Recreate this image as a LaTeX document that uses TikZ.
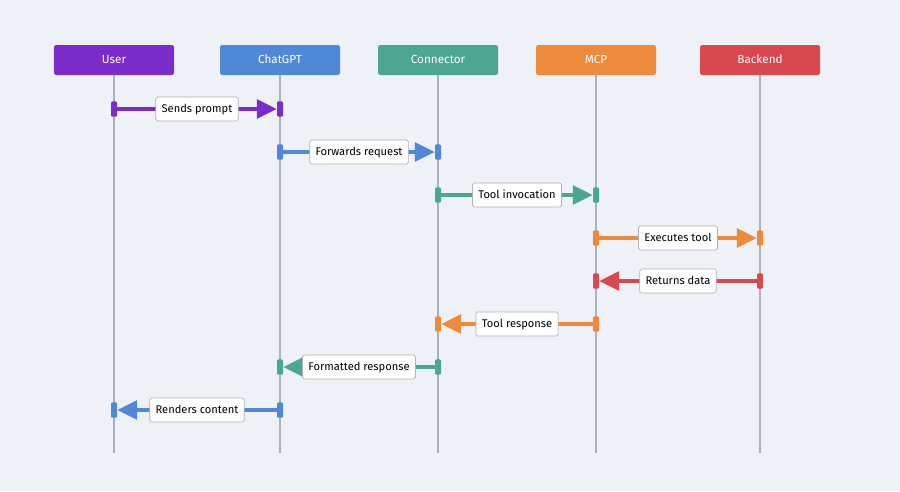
\documentclass[tikz,border=0pt]{standalone}
\usepackage{fontspec}
\setmainfont{Fira Sans}
\usepackage{xcolor}
\usetikzlibrary{arrows.meta,positioning}
\definecolor{bgcol}{HTML}{EEF1F5}
\definecolor{lifecol}{HTML}{A8B3BF}
\definecolor{usercol}{HTML}{7B2CCB}
\definecolor{gptcol}{HTML}{5088D8}
\definecolor{conncol}{HTML}{4DA68F}
\definecolor{mcpcol}{HTML}{EE8A3B}
\definecolor{backcol}{HTML}{D9474F}
\tikzset{
  actor/.style={rounded corners=2pt,minimum width=3.6cm,minimum height=0.9cm,text=white,font=\fontsize{10}{12}\selectfont,inner sep=0pt,text height=1.6ex,text depth=0.45ex},
  life/.style={draw=lifecol,line width=0.075cm},
  tick/.style={rounded corners=1pt,minimum width=0.18cm,minimum height=0.46cm,inner sep=0pt},
  msg/.style={line width=0.12cm,-{Triangle[length=0.6cm,width=0.56cm]}},
  lbl/.style={draw=black!30,line width=0.6pt,fill=white,text=black,rounded corners=1.5pt,font=\fontsize{9.5}{11}\selectfont,minimum height=0.72cm,inner xsep=5pt,text height=1.6ex,text depth=0.45ex},
}
\begin{document}
\begin{tikzpicture}[x=0.03cm,y=-0.03cm]
\fill[bgcol] (0,0) rectangle (900,491);
\useasboundingbox (0,0) rectangle (900,491);
% actors
\node[actor,fill=usercol] (user) at (114,60) {User};
\node[actor,fill=gptcol] (gpt) at (280,60) {ChatGPT};
\node[actor,fill=conncol] (conn) at (438,60) {Connector};
\node[actor,fill=mcpcol] (mcp) at (596,60) {MCP};
\node[actor,fill=backcol] (back) at (760,60) {Backend};
% lifelines
\coordinate (userend) at (114,453);
\coordinate (gptend) at (280,453);
\coordinate (connend) at (438,453);
\coordinate (mcpend) at (596,453);
\coordinate (backend) at (760,453);
\draw[life] (user.south)--(userend);
\draw[life] (gpt.south)--(gptend);
\draw[life] (conn.south)--(connend);
\draw[life] (mcp.south)--(mcpend);
\draw[life] (back.south)--(backend);
% messages
\node[tick,fill=usercol] (m1a) at (114,109) {};
\node[tick,fill=usercol] (m1b) at (280,109) {};
\draw[msg,usercol] (m1a)--node[lbl]{Sends prompt} (m1b);
\node[tick,fill=gptcol] (m2a) at (280,152) {};
\node[tick,fill=gptcol] (m2b) at (438,152) {};
\draw[msg,gptcol] (m2a)--node[lbl]{Forwards request} (m2b);
\node[tick,fill=conncol] (m3a) at (438,195) {};
\node[tick,fill=conncol] (m3b) at (596,195) {};
\draw[msg,conncol] (m3a)--node[lbl]{Tool invocation} (m3b);
\node[tick,fill=mcpcol] (m4a) at (596,238) {};
\node[tick,fill=mcpcol] (m4b) at (760,238) {};
\draw[msg,mcpcol] (m4a)--node[lbl]{Executes tool} (m4b);
\node[tick,fill=backcol] (m5a) at (760,281) {};
\node[tick,fill=backcol] (m5b) at (596,281) {};
\draw[msg,backcol] (m5a)--node[lbl]{Returns data} (m5b);
\node[tick,fill=mcpcol] (m6a) at (596,324) {};
\node[tick,fill=mcpcol] (m6b) at (438,324) {};
\draw[msg,mcpcol] (m6a)--node[lbl]{Tool response} (m6b);
\node[tick,fill=conncol] (m7a) at (438,367) {};
\node[tick,fill=conncol] (m7b) at (280,367) {};
\draw[msg,conncol] (m7a)--node[lbl]{Formatted response} (m7b);
\node[tick,fill=gptcol] (m8a) at (280,410) {};
\node[tick,fill=gptcol] (m8b) at (114,410) {};
\draw[msg,gptcol] (m8a)--node[lbl]{Renders content} (m8b);
\end{tikzpicture}
\end{document}
